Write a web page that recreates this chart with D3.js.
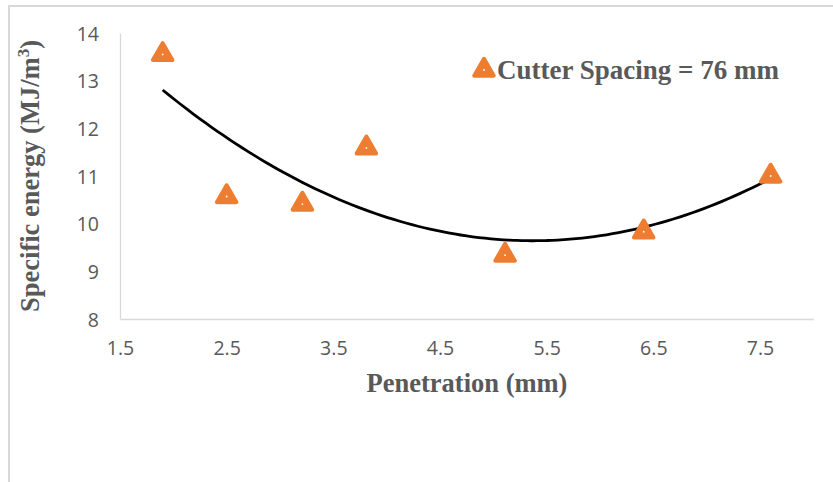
<!DOCTYPE html>
<html>
<head>
<meta charset="utf-8">
<script src="https://cdn.jsdelivr.net/npm/d3@7"></script>
<style>
  body { margin: 0; background: #fff; }
  svg { display: block; }
</style>
</head>
<body>
<svg id="chart" width="833" height="482"></svg>
<script>
var penetration = [1.9, 2.5, 3.21, 3.81, 5.11, 6.41, 7.6];
var specificEnergy = [13.55, 10.57, 10.41, 11.59, 9.34, 9.83, 11.0];
var xTicks = [1.5, 2.5, 3.5, 4.5, 5.5, 6.5, 7.5];
var yTicks = [8, 9, 10, 11, 12, 13, 14];
var legendLabel = 'Cutter Spacing = 76 mm';

var svg = d3.select('#chart');
var orange = '#ed7d31';
var grey = '#595959';

// outer chart frame (only top and left edges are visible in the crop)
svg.append('path')
  .attr('d', 'M9,482V6H833')
  .attr('fill', 'none')
  .attr('stroke', '#d9d9d9')
  .attr('stroke-width', 2);

var x = d3.scaleLinear().domain([1.5, 8.0]).range([120, 813.3]);
var y = d3.scaleLinear().domain([8, 14]).range([319, 33]);

var xAxis = svg.append('g')
  .attr('transform', `translate(0,${y(8)})`)
  .call(d3.axisBottom(x).tickValues(xTicks).tickSize(0).tickPadding(22)
    .tickFormat(d3.format('.1f')));
var yAxis = svg.append('g')
  .attr('transform', `translate(${x(1.5)},0)`)
  .call(d3.axisLeft(y).tickValues(yTicks).tickSize(0).tickPadding(21)
    .tickFormat(d3.format('d')));

[xAxis, yAxis].forEach(function (g) {
  g.select('.domain').attr('stroke', '#d9d9d9').attr('stroke-width', 1.3);
  g.selectAll('text')
    .attr('fill', grey)
    .style('font-family', 'Open Sans, sans-serif')
    .style('font-size', '19.5px');
});
yAxis.selectAll('text').attr('dy', '0.36em');
xAxis.selectAll('text').attr('dy', '0.71em');

// second-order polynomial trendline, least squares fit
function polyFit(xs, ys) {
  var n = xs.length, s = [0, 0, 0, 0, 0], t = [0, 0, 0];
  for (var i = 0; i < n; i++) {
    for (var k = 0; k < 5; k++) s[k] += Math.pow(xs[i], k);
    for (var k = 0; k < 3; k++) t[k] += ys[i] * Math.pow(xs[i], k);
  }
  var m = [[s[0], s[1], s[2], t[0]], [s[1], s[2], s[3], t[1]], [s[2], s[3], s[4], t[2]]];
  for (var c = 0; c < 3; c++) {
    for (var r = c + 1; r < 3; r++) {
      var f = m[r][c] / m[c][c];
      for (var j = c; j < 4; j++) m[r][j] -= f * m[c][j];
    }
  }
  var b = [0, 0, 0];
  for (var r = 2; r >= 0; r--) {
    var v = m[r][3];
    for (var j = r + 1; j < 3; j++) v -= m[r][j] * b[j];
    b[r] = v / m[r][r];
  }
  return function (xv) { return b[0] + b[1] * xv + b[2] * xv * xv; };
}
var trend = polyFit(penetration, specificEnergy);
var xMin = d3.min(penetration), xMax = d3.max(penetration);
var trendPts = d3.range(0, 101).map(function (i) {
  var xv = xMin + (xMax - xMin) * i / 100;
  return [xv, trend(xv)];
});
svg.append('path')
  .datum(trendPts)
  .attr('fill', 'none')
  .attr('stroke', '#000')
  .attr('stroke-width', 2.8)
  .attr('d', d3.line().x(d => x(d[0])).y(d => y(d[1])).curve(d3.curveMonotoneX));

var tri = d3.symbol().type(d3.symbolTriangle).size(165);
function marker(g) {
  g.append('path')
    .attr('d', tri)
    .attr('fill', orange)
    .attr('stroke', orange)
    .attr('stroke-width', 4)
    .attr('stroke-linejoin', 'round');
  g.append('circle').attr('r', 0.9).attr('fill', '#fff');
}

svg.selectAll('.pt')
  .data(penetration.map((p, i) => [p, specificEnergy[i]]))
  .enter().append('g')
  .attr('class', 'pt')
  .attr('transform', d => `translate(${x(d[0])},${y(d[1])})`)
  .call(marker);

var titleFont = '26.5px';

// legend
var legend = svg.append('g').attr('transform', 'translate(484,70)');
legend.call(marker);
legend.append('text')
  .attr('x', 13)
  .attr('y', 9)
  .attr('fill', grey)
  .style('font-family', 'Liberation Serif, serif')
  .style('font-weight', 'bold')
  .style('font-size', '27px')
  .text(legendLabel);

// axis titles
svg.append('text')
  .attr('x', 467)
  .attr('y', 392)
  .attr('text-anchor', 'middle')
  .attr('fill', grey)
  .style('font-family', 'Liberation Serif, serif')
  .style('font-weight', 'bold')
  .style('font-size', titleFont)
  .text('Penetration (mm)');

var yTitle = svg.append('text')
  .attr('transform', 'translate(39,176) rotate(-90)')
  .attr('text-anchor', 'middle')
  .attr('fill', grey)
  .style('font-family', 'Liberation Serif, serif')
  .style('font-weight', 'bold')
  .style('font-size', titleFont);
yTitle.append('tspan').text('Specific energy (MJ/m');
yTitle.append('tspan').attr('dy', -10).style('font-size', '17px').text('3');
yTitle.append('tspan').attr('dy', 10).text(')');
</script>
</body>
</html>
